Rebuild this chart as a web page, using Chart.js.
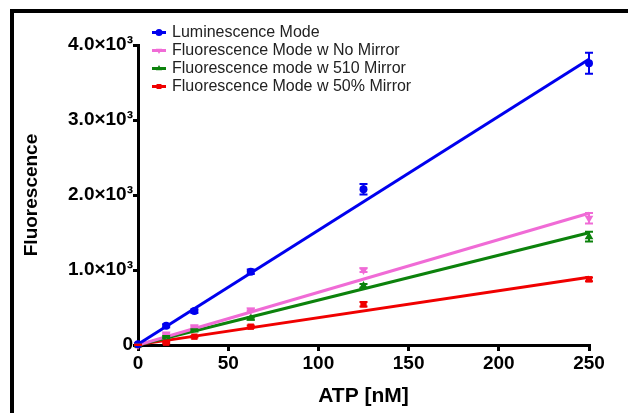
<!DOCTYPE html>
<html>
<head>
<meta charset="utf-8">
<script src="https://cdn.jsdelivr.net/npm/chart.js@4.4.1/dist/chart.umd.min.js"></script>
<style>
  html, body { margin: 0; padding: 0; background: #fff; }
  #wrap { position: relative; width: 628px; height: 413px; overflow: hidden; }
  #frame { position: absolute; left: 10px; top: 9px; width: 700px; height: 500px;
           border-left: 4px solid #000; border-top: 4px solid #000; pointer-events: none; }
  canvas { position: absolute; left: 0; top: 0; }
</style>
</head>
<body>
<div id="wrap">
  <canvas id="atpChart" width="628" height="413"></canvas>
  <div id="frame"></div>
</div>
<script>
// ATP dilution series (nM)
const atp = [0, 15.625, 31.25, 62.5, 125, 250];

const seriesNames = [
  "Luminescence Mode",
  "Fluorescence Mode w No Mirror",
  "Fluorescence mode w 510 Mirror",
  "Fluorescence Mode w 50% Mirror"
];

// mean readings
const lumValues      = [10, 257, 453, 977, 2076, 3756];
const noMirrorValues = [0, 147, 244, 467, 1000, 1689];
const m510Values     = [0, 111, 200, 356, 787, 1444];
const m50Values      = [0, 31, 111, 244, 542, 876];

// error bar half-heights
const lumErr      = [10, 20, 25, 30, 70, 140];
const noMirrorErr = [5, 10, 10, 15, 25, 70];
const m510Err     = [5, 10, 10, 15, 25, 65];
const m50Err      = [5, 10, 10, 15, 30, 25];

// linear fit end points
const fitX        = [0, 250];
const lumFit      = [10, 3810];
const noMirrorFit = [0, 1756];
const m510Fit     = [0, 1497];
const m50Fit      = [5, 902];

const yTickLabels = ["0", "1.0×10³", "2.0×10³", "3.0×10³", "4.0×10³"];

const colors = ["#0000ee", "#f06bd6", "#0c820c", "#f00000"];
const FONT = '"Liberation Sans", Arial, sans-serif';

const pts = vals => atp.map((x, i) => ({ x, y: vals[i] }));
const fit = vals => fitX.map((x, i) => ({ x, y: vals[i] }));

const pointSets = [
  { vals: lumValues, err: lumErr, style: "circle", rot: 0, r: 4 },
  { vals: noMirrorValues, err: noMirrorErr, style: "triangle", rot: 180, r: 5 },
  { vals: m510Values, err: m510Err, style: "triangle", rot: 0, r: 5 },
  { vals: m50Values, err: m50Err, style: "rect", rot: 0, r: 4.5 }
];
const fitSets = [lumFit, noMirrorFit, m510Fit, m50Fit];

const datasets = [];
pointSets.forEach((s, i) => {
  datasets.push({
    label: seriesNames[i],
    data: pts(s.vals),
    errors: s.err,
    showLine: false,
    pointStyle: s.style,
    rotation: s.rot,
    pointRadius: s.r,
    pointBorderWidth: 0,
    backgroundColor: colors[i],
    borderColor: colors[i],
    clip: false,
    order: 0
  });
});
fitSets.forEach((f, i) => {
  datasets.push({
    data: fit(f),
    showLine: true,
    pointRadius: 0,
    borderWidth: 3,
    borderColor: colors[i],
    clip: false,
    order: 1
  });
});

const errorBars = {
  id: "errorBars",
  afterDatasetsDraw(chart) {
    const { ctx, scales: { x, y } } = chart;
    chart.data.datasets.forEach(ds => {
      if (!ds.errors) return;
      ctx.save();
      ctx.strokeStyle = ds.borderColor;
      ctx.lineWidth = 2;
      ds.data.forEach((p, j) => {
        const e = ds.errors[j];
        const px = x.getPixelForValue(p.x);
        const top = y.getPixelForValue(p.y + e);
        const bot = y.getPixelForValue(Math.max(0, p.y - e));
        ctx.beginPath();
        ctx.moveTo(px, top); ctx.lineTo(px, bot);
        ctx.moveTo(px - 4, top); ctx.lineTo(px + 4, top);
        ctx.moveTo(px - 4, bot); ctx.lineTo(px + 4, bot);
        ctx.stroke();
      });
      ctx.restore();
    });
  }
};

// legend drawn inside the plot, line + marker like the original
const insideLegend = {
  id: "insideLegend",
  afterDraw(chart) {
    const ctx = chart.ctx;
    const items = chart.data.datasets.filter(ds => ds.label);
    ctx.save();
    ctx.font = "16px " + FONT;
    ctx.textBaseline = "middle";
    items.forEach((ds, i) => {
      const yy = 32.5 + i * 18;
      ctx.strokeStyle = ds.borderColor;
      ctx.lineWidth = 3;
      ctx.beginPath(); ctx.moveTo(152, yy); ctx.lineTo(166, yy); ctx.stroke();
      ctx.fillStyle = ds.backgroundColor;
      Chart.helpers.drawPoint(ctx, { pointStyle: ds.pointStyle, radius: 3.5, rotation: ds.rotation, borderWidth: 0 }, 159, yy);
      ctx.fillStyle = "#222";
      ctx.fillText(ds.label, 172, yy);
    });
    ctx.restore();
  }
};

new Chart(document.getElementById("atpChart"), {
  type: "scatter",
  data: { datasets },
  plugins: [errorBars, insideLegend],
  options: {
    responsive: false,
    animation: false,
    layout: { padding: { top: 45, right: 39, bottom: 0, left: 0 } },
    plugins: { legend: { display: false }, tooltip: { enabled: false } },
    scales: {
      x: {
        type: "linear", min: 0, max: 250,
        ticks: { stepSize: 50, color: "#000", padding: 1, maxRotation: 0,
                 font: { family: FONT, size: 19, weight: "bold" } },
        grid: { drawOnChartArea: false, tickLength: 6, color: "#000", lineWidth: 3 },
        border: { color: "#000", width: 3 },
        title: { display: true, text: "ATP [nM]", color: "#000",
                 font: { family: FONT, size: 21, weight: "bold" }, padding: { top: 0, bottom: 4 } },
        afterFit(s) { s.height = 68; }
      },
      y: {
        type: "linear", min: 0, max: 4000,
        ticks: { stepSize: 1000, color: "#000", padding: 0,
                 font: { family: FONT, size: 19, weight: "bold" },
                 callback: (v, i) => yTickLabels[i] },
        grid: { drawOnChartArea: false, tickLength: 5, color: "#000", lineWidth: 3 },
        border: { color: "#000", width: 3 },
        title: { display: true, text: "Fluorescence", color: "#000",
                 font: { family: FONT, size: 19, weight: "bold" }, padding: { top: 20, bottom: 0 } },
        afterFit(s) { s.width = 138; }
      }
    }
  }
});
</script>
</body>
</html>
